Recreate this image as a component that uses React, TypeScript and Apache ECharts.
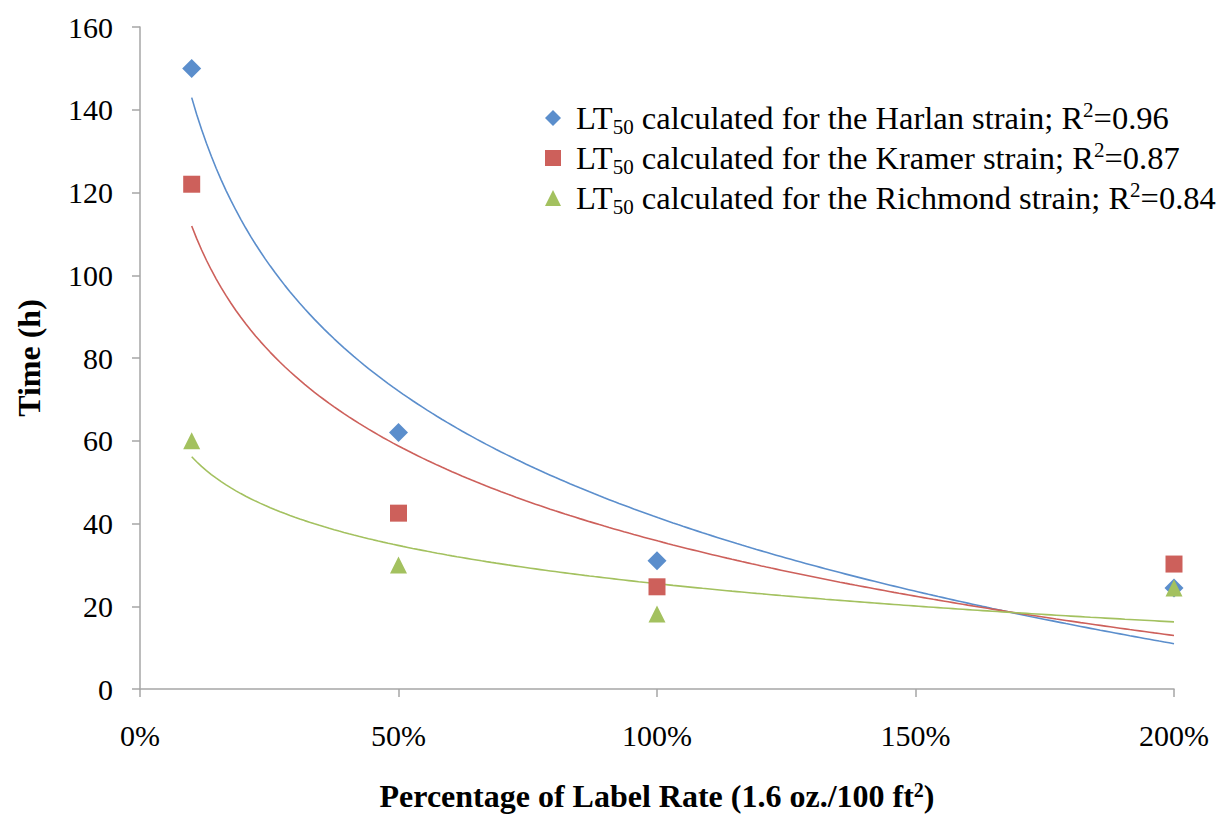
import React, { useEffect, useRef } from "react";
import * as echarts from "echarts";

const rates = [0.1, 0.5, 1.0, 2.0];
const harlan = [150, 62, 31, 24.4];
const kramer = [122, 42.5, 24.7, 30.2];
const richmond = [60, 30, 18.1, 24.4];
const strainNames = ["Harlan", "Kramer", "Richmond"];
const rSquared = ["0.96", "0.87", "0.84"];
const colors = ["#5B8ECC", "#CD605B", "#A3C15F"];
const symbols = ["diamond", "rect", "triangle"];
const symbolSizes = [19, 17, 17];
const xTicks = { min: 0, max: 2, interval: 0.5 };
const yTicks = { min: 0, max: 160, interval: 20 };

const FONT = "'Liberation Serif', 'Times New Roman', serif";

// Excel-style logarithmic trend line, fitted to the data points above
function logFit(xs: number[], ys: number[]) {
  const lx = xs.map((x) => Math.log(x));
  const n = xs.length;
  const mx = lx.reduce((a, b) => a + b, 0) / n;
  const my = ys.reduce((a, b) => a + b, 0) / n;
  let sxy = 0;
  let sxx = 0;
  for (let i = 0; i < n; i++) {
    sxy += (lx[i] - mx) * (ys[i] - my);
    sxx += (lx[i] - mx) * (lx[i] - mx);
  }
  const a = sxy / sxx;
  const b = my - a * mx;
  const pts: number[][] = [];
  const x0 = xs[0];
  const x1 = xs[xs.length - 1];
  const steps = 200;
  for (let i = 0; i <= steps; i++) {
    const x = x0 + ((x1 - x0) * i) / steps;
    pts.push([x, a * Math.log(x) + b]);
  }
  return pts;
}

export default function App() {
  const ref = useRef<HTMLDivElement>(null);
  useEffect(() => {
    if (!ref.current) return;
    const chart = echarts.init(ref.current, undefined, { renderer: "svg" });
    const allY = [harlan, kramer, richmond];

    const trendSeries = allY.map((ys, i) => ({
      type: "line",
      name: strainNames[i] + " trend",
      data: logFit(rates, ys),
      showSymbol: false,
      symbol: "none",
      lineStyle: { color: colors[i], width: 1.6 },
      itemStyle: { color: colors[i] },
      z: 2,
      silent: true,
    }));
    const scatterSeries = allY.map((ys, i) => ({
      type: "scatter",
      name: strainNames[i],
      data: rates.map((x, j) => [x, ys[j]]),
      symbol: symbols[i],
      symbolSize: symbolSizes[i],
      itemStyle: { color: colors[i], opacity: 1 },
      z: 3,
    }));

    const richLegend = {
      base: { fontSize: 32.5, fontFamily: FONT, color: "#000", lineHeight: 38 },
      pad: { width: 10, lineHeight: 38 },
      sub: { fontSize: 21, fontFamily: FONT, color: "#000", lineHeight: 22, verticalAlign: "bottom" },
      sup: { fontSize: 21, fontFamily: FONT, color: "#000", lineHeight: 26, verticalAlign: "top" },
    };

    chart.setOption({
      animation: false,
      backgroundColor: "#fff",
      textStyle: { fontFamily: FONT },
      grid: { left: 140, right: 54, top: 27, bottom: 125, containLabel: false, outerBoundsMode: "none" },
      legend: {
        orient: "vertical",
        left: 540,
        top: 94,
        itemWidth: 16,
        itemHeight: 16,
        itemGap: 2,
        data: strainNames.map((n, i) => ({ name: n, icon: symbols[i] })),
        formatter: (name: string) => {
          const i = strainNames.indexOf(name);
          return (
            "{pad|}{base|LT}{sub|50}{base| calculated for the " +
            name +
            " strain; R}{sup|2}{base|=" +
            rSquared[i] +
            "}"
          );
        },
        textStyle: { fontSize: 32.5, fontFamily: FONT, color: "#000", rich: richLegend },
      },
      xAxis: {
        type: "value",
        min: xTicks.min,
        max: xTicks.max,
        interval: xTicks.interval,
        splitLine: { show: false },
        axisLine: { show: true, lineStyle: { color: "#a6a6a6", width: 1.5 } },
        axisTick: { show: true, length: 8, lineStyle: { color: "#a6a6a6", width: 1.5 } },
        axisLabel: {
          fontSize: 30,
          fontFamily: FONT,
          color: "#000",
          margin: 31,
          formatter: (v: number) => Math.round(v * 100) + "%",
        },
        name: "Percentage of Label Rate (1.6 oz./100 ft{sup|2})",
        nameLocation: "middle",
        nameGap: 91,
        nameTextStyle: {
          fontSize: 32,
          fontWeight: "bold",
          fontFamily: FONT,
          color: "#000",
          lineHeight: 32,
          rich: {
            sup: { fontSize: 20, fontWeight: "bold", fontFamily: FONT, color: "#000", lineHeight: 22, verticalAlign: "top" },
          },
        },
      },
      yAxis: {
        type: "value",
        min: yTicks.min,
        max: yTicks.max,
        interval: yTicks.interval,
        splitLine: { show: false },
        axisLine: { show: true, lineStyle: { color: "#a6a6a6", width: 1.5 } },
        axisTick: { show: true, length: 8, lineStyle: { color: "#a6a6a6", width: 1.5 } },
        axisLabel: { fontSize: 30, fontFamily: FONT, color: "#000", margin: 27 },
        name: "Time (h)",
        nameLocation: "middle",
        nameGap: 95,
        nameTextStyle: { fontSize: 32, fontWeight: "bold", fontFamily: FONT, color: "#000" },
      },
      series: [...trendSeries, ...scatterSeries],
    });
    return () => chart.dispose();
  }, []);
  return (
    <div
      ref={ref}
      style={{ position: "absolute", left: 0, top: 0, width: 1228, height: 814 }}
    />
  );
}
